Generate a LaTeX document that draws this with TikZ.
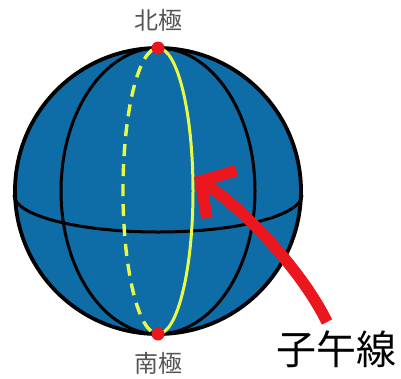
\documentclass[tikz,border=0pt]{standalone}
\usepackage{fontspec}
\newfontfamily\cjkfont{Noto Sans CJK JP}
\usepackage{tikz}
\usetikzlibrary{arrows.meta,positioning}

\definecolor{globeblue}{RGB}{14,108,166}
\definecolor{meridianyellow}{RGB}{232,250,70}
\definecolor{polered}{RGB}{236,22,30}
\definecolor{labelgray}{RGB}{85,85,85}

\begin{document}
\begin{tikzpicture}[
  x=1pt, y=-1pt,
  globe/.style={circle, draw=black, line width=3.8pt, fill=globeblue,
    minimum size=286pt, inner sep=0pt},
  grid/.style={draw=black, line width=3pt},
  primemer/.style={draw=meridianyellow, line width=3pt},
  farside/.style={primemer, line width=3.4pt, dash pattern=on 12pt off 8pt, dash phase=14pt},
  pole/.style={circle, fill=polered, minimum size=13pt, inner sep=0pt},
  polelabel/.style={font=\cjkfont\fontsize{24}{24}\selectfont, text=labelgray,
    inner sep=1pt},
  pointer/.style={draw=polered, line width=11.5pt,
    -{Straight Barb[length=25pt, width=56pt]}}
]
\useasboundingbox (0,0) rectangle (401,378);

\node[globe] (earth) at (158,191) {};

% meridians and equator
\draw[grid] (earth.center) ellipse[x radius=97, y radius=143];
\draw[grid] (14,195) arc[start angle=180, end angle=0, x radius=144, y radius=37];

% highlighted meridian, back half dashed
\coordinate (north) at (158,48);
\draw[primemer] (north) arc[start angle=-90, end angle=90, x radius=35, y radius=143];
\draw[farside] (north) arc[start angle=-90, end angle=-270, x radius=35, y radius=143];

\node[pole] (np) at (north) {};
\node[pole] (sp) at (158,334) {};
\node[polelabel, above=9pt of np] (nlabel) {北極};
\node[polelabel, below=10pt of sp] (slabel) {南極};

\node[font=\cjkfont\fontsize{40}{40}\selectfont, inner sep=0pt] (name) at (336,349) {子午線};
\coordinate (tail) at (327,322);
\coordinate (tip) at (194,177);
\draw[pointer] (tail) .. controls +(-27,-55) and +(45,28) .. (tip);
\end{tikzpicture}
\end{document}
